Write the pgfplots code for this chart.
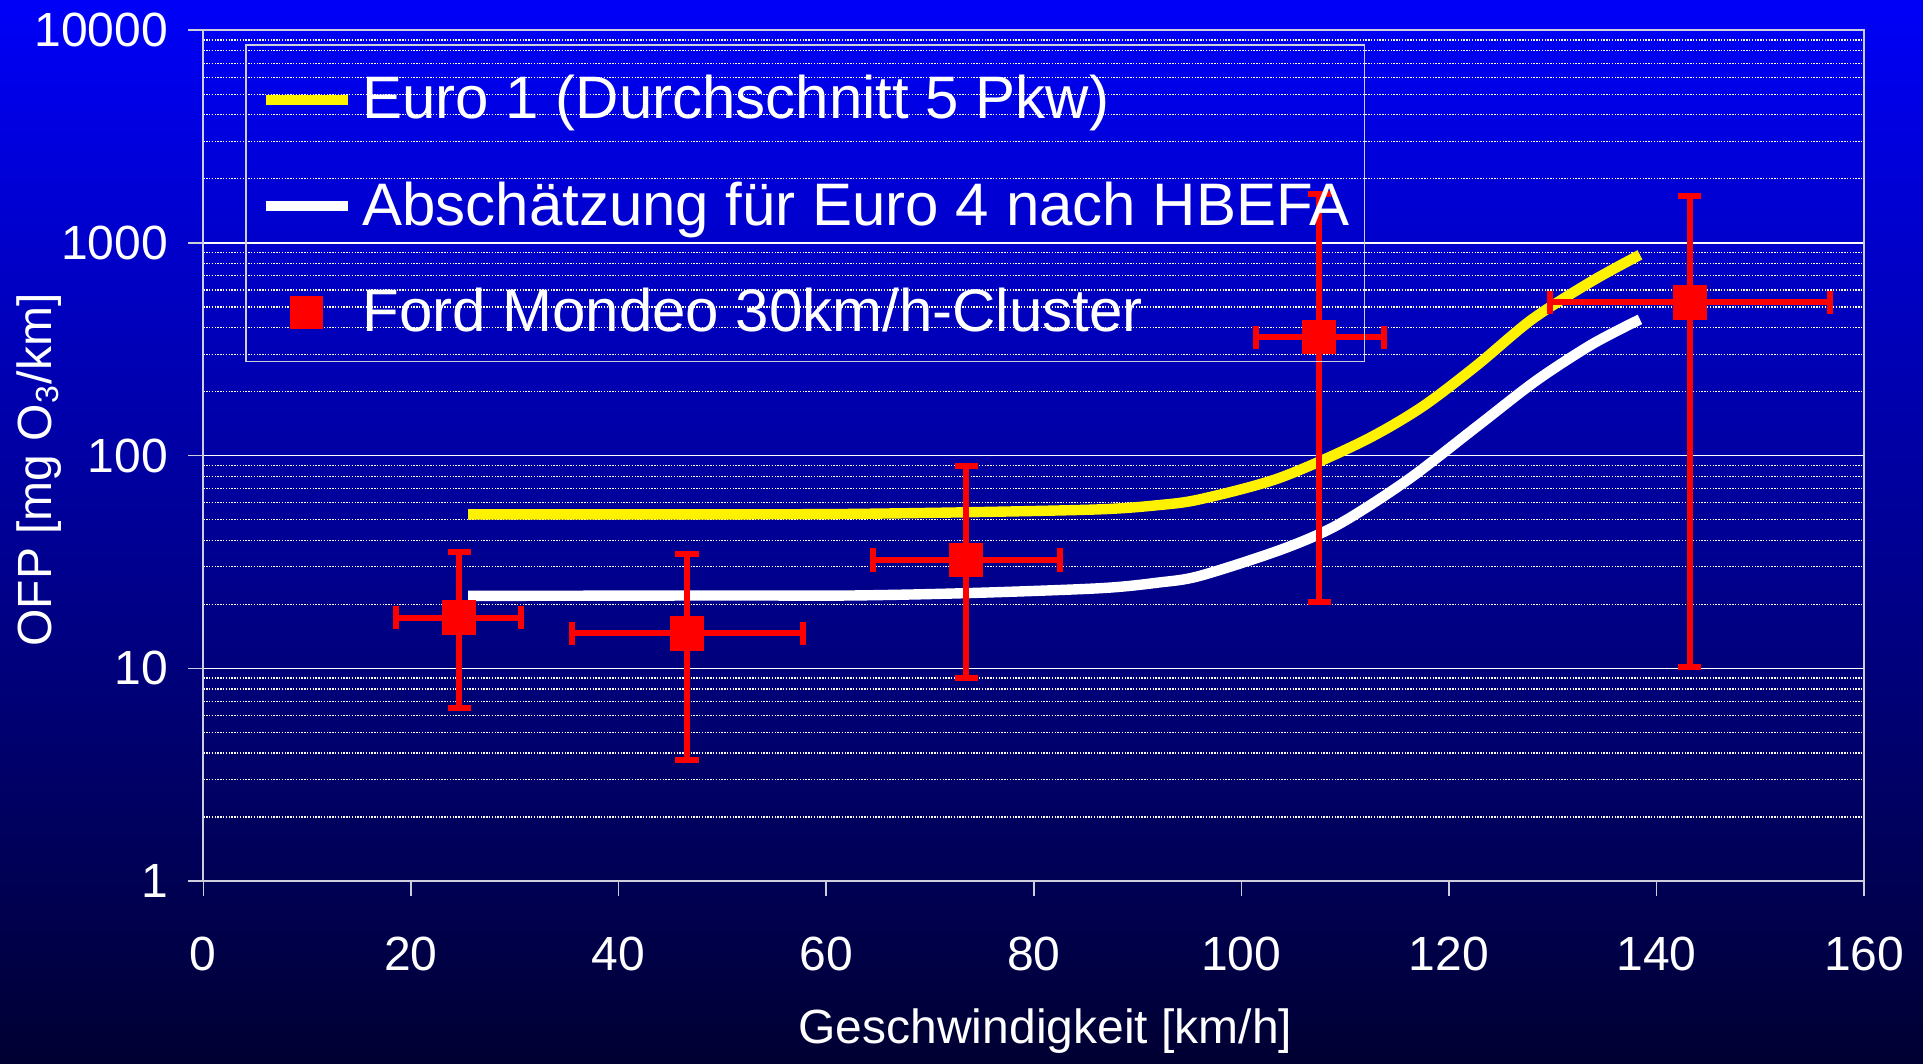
\documentclass[border=0pt]{standalone}
\usepackage{fontspec}
\setmainfont{Liberation Sans}
\usepackage{pgfplots}
\pgfplotsset{compat=1.18}
\usepackage{pgfplotstable}

\definecolor{bgtop}{RGB}{0,0,248}
\definecolor{bgbottom}{RGB}{0,0,50}
\definecolor{framegray}{RGB}{205,205,220}

% Euro 1 (average of 5 cars)
\pgfplotstableread{
x y
25.5 52.9
40 52.9
55 53.0
62.5 53.2
74 54.2
86.4 55.9
92 58.5
96 62.3
103.6 78.3
111.6 116
117.3 168
122.7 266
128 437
133.8 662
138.4 879
}\euroone

% Euro 4 estimate (HBEFA)
\pgfplotstableread{
x y
25.5 21.9
50 22.0
62.5 22.0
74 22.6
86.4 23.8
92 25.3
96 27.2
104 36.4
109.4 47.6
116 76.7
122.7 137
128.4 225
133.8 334
138.4 437
}\eurofour

% Ford Mondeo, 30 km/h clusters: mean with asymmetric spreads
\pgfplotstableread{
x y xm xp ym yp
24.65 17.3 6.05 5.95 10.82 17.8
46.6 14.6 11.1 11.2 10.9 19.7
73.5 32.3 9.0 9.0 23.33 57.2
107.5 360 6.1 6.2 339.5 1340
143.2 525 13.5 13.5 514.9 1145
}\mondeo

\begin{document}
\begin{tikzpicture}
\shade[top color=bgtop, bottom color=bgbottom] (0pt,0pt) rectangle (480.75pt,265.75pt);
\useasboundingbox (0pt,0pt) rectangle (480.75pt,265.75pt);
\begin{axis}[
  at={(50.83pt,45.5pt)}, anchor=south west,
  scale only axis, width=415.2pt, height=212.7pt,
  xmin=0, xmax=160, ymin=1, ymax=10000, ymode=log,
  xtick={0,20,40,60,80,100,120,140,160},
  xticklabels={0,20,40,60,80,100,120,140,160},
  ytick={1,10,100,1000,10000},
  yticklabels={1,10,100,1000,10000},
  minor ytick={2,3,4,5,6,7,8,9,20,30,40,50,60,70,80,90,200,300,400,500,600,700,800,900,2000,3000,4000,5000,6000,7000,8000,9000},
  /pgf/number format/assume math mode=true,
  axis line style={draw=framegray, line width=0.5pt},
  tick align=outside, xtick pos=left, ytick pos=left,
  major tick length=3.75pt, minor tick length=0pt,
  major tick style={draw=framegray, line width=0.4pt},
  ymajorgrids, yminorgrids,
  major grid style={draw=white, line width=0.35pt},
  minor grid style={draw=white, line width=0.3pt, dash pattern=on 0.35pt off 0.35pt},
  tick label style={font=\fontsize{12}{14.4}\selectfont, text=white},
  yticklabel style={anchor=east, inner sep=0pt},
  yticklabel shift=4.9pt,
  xticklabel style={anchor=north, inner sep=0pt, text height=8.6pt, text depth=0pt},
  xticklabel shift=9.75pt,
  label style={font=\fontsize{12}{14.4}\selectfont, text=white},
  xlabel={Geschwindigkeit [km/h]},
  xlabel style={at={(axis description cs:0.507,-0.1904)}, anchor=base},
  ylabel={OFP [mg O\textsubscript{3}/km]},
  ylabel style={at={(axis description cs:-0.0913,0.483)}, anchor=base, rotate=0},
  legend style={at={(axis description cs:0.0251,0.9838)}, anchor=north west,
    draw=framegray, line width=0.4pt, fill=none,
    inner xsep=3.7pt, inner ysep=7.5pt,
    font=\fontsize{15}{18}\selectfont, text=white,
    row sep=15.6pt, column sep=2.3pt,
    nodes={inner sep=0pt, text height=11pt, text depth=0pt}},
  legend cell align=left,
]
\addplot[yellow, line width=2.6pt, smooth, tension=0.5,
  legend image code/.code={\draw[yellow, line width=2.5pt] (0pt,-0.7pt) -- (20.65pt,-0.7pt);}]
  table[x=x, y=y]{\euroone};
\addplot[white, line width=2.6pt, smooth, tension=0.5,
  legend image code/.code={\draw[white, line width=2.5pt] (0pt,-0.7pt) -- (20.65pt,-0.7pt);}]
  table[x=x, y=y]{\eurofour};
\addplot[red, only marks, mark=square*, mark size=4.1pt,
  mark options={draw=red, fill=red},
  error bars/.cd,
    x dir=both, x explicit, y dir=both, y explicit,
    error mark=|,
    error bar style={red, line width=1.5pt},
    error mark options={red, line width=1.5pt, mark size=2.9pt},
  /pgfplots/legend image code/.code={\fill[red] (6.35pt,-4.65pt) rectangle (14.25pt,3.25pt);}]
  table[x=x, y=y, x error minus=xm, x error plus=xp, y error minus=ym, y error plus=yp]{\mondeo};
\legend{Euro 1 (Durchschnitt 5 Pkw), Abschätzung für Euro 4 nach HBEFA, Ford Mondeo 30km/h-Cluster}
\end{axis}
\end{tikzpicture}
\end{document}
